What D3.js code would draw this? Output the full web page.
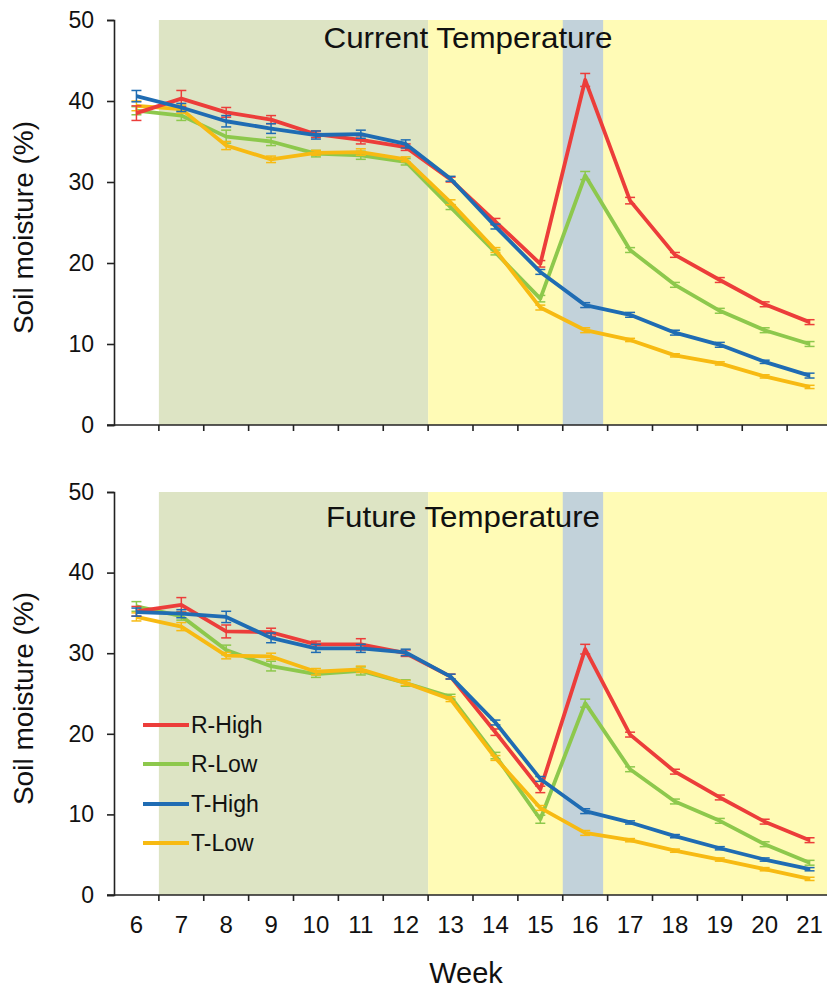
<!DOCTYPE html>
<html>
<head>
<meta charset="utf-8">
<script src="https://cdn.jsdelivr.net/npm/d3@7"></script>
<style>
  html, body { margin: 0; padding: 0; background: #fff; }
  svg { display: block; }
  text { font-family: "Liberation Sans", Arial, sans-serif; fill: #111; }
</style>
</head>
<body>
<svg id="chart" width="827" height="990"></svg>
<script>
// ---------- DATA ----------
const weeks = [6, 7, 8, 9, 10, 11, 12, 13, 14, 15, 16, 17, 18, 19, 20, 21];
const seriesNames = ["R-High", "R-Low", "T-High", "T-Low"];
const yTicks = [0, 10, 20, 30, 40, 50];
const panelTitles = ["Current Temperature", "Future Temperature"];

// Current temperature
const curRHigh = [38.5, 40.3, 38.6, 37.7, 35.9, 35.2, 34.3, 30.3, 25.1, 19.9, 42.6, 27.7, 21.0, 17.9, 14.9, 12.7];
const curRLow  = [38.8, 38.2, 35.6, 35.0, 33.5, 33.3, 32.5, 26.9, 21.3, 15.6, 30.8, 21.6, 17.3, 14.1, 11.7, 10.0];
const curTHigh = [40.6, 39.2, 37.5, 36.6, 35.8, 35.9, 34.7, 30.4, 24.5, 18.9, 14.8, 13.6, 11.4, 9.9, 7.8, 6.1];
const curTLow  = [39.4, 39.0, 34.5, 32.8, 33.6, 33.7, 32.8, 27.5, 21.6, 14.5, 11.7, 10.5, 8.6, 7.6, 6.0, 4.7];
const curErr = [
  [0.9, 1.0, 0.6, 0.5, 0.4, 0.5, 0.4, 0.3, 0.4, 0.4, 0.8, 0.4, 0.3, 0.3, 0.3, 0.3],
  [0.5, 0.6, 0.8, 0.5, 0.4, 0.5, 0.4, 0.3, 0.3, 0.4, 0.5, 0.3, 0.3, 0.3, 0.3, 0.3],
  [0.7, 0.5, 0.7, 0.6, 0.5, 0.5, 0.5, 0.3, 0.3, 0.3, 0.3, 0.3, 0.3, 0.3, 0.2, 0.3],
  [0.6, 0.5, 0.5, 0.4, 0.3, 0.4, 0.3, 0.3, 0.3, 0.3, 0.3, 0.2, 0.2, 0.2, 0.2, 0.2]
];

// Future temperature
const futRHigh = [35.2, 36.0, 32.7, 32.6, 31.1, 31.1, 30.0, 27.1, 20.2, 13.1, 30.5, 19.9, 15.3, 12.1, 9.1, 6.8];
const futRLow  = [35.8, 34.6, 30.4, 28.4, 27.4, 27.8, 26.3, 24.6, 17.3, 9.4, 23.8, 15.6, 11.6, 9.2, 6.3, 4.0];
const futTHigh = [35.1, 34.9, 34.5, 31.9, 30.6, 30.6, 30.1, 27.1, 21.4, 14.4, 10.4, 9.0, 7.3, 5.8, 4.4, 3.2];
const futTLow  = [34.5, 33.3, 29.7, 29.6, 27.7, 28.0, 26.3, 24.3, 17.0, 10.8, 7.7, 6.8, 5.5, 4.4, 3.2, 2.0];
const futErr = [
  [0.6, 0.9, 0.8, 0.5, 0.4, 0.7, 0.4, 0.3, 0.4, 0.4, 0.6, 0.3, 0.3, 0.3, 0.3, 0.3],
  [0.6, 0.5, 0.6, 0.6, 0.4, 0.5, 0.4, 0.3, 0.4, 0.5, 0.5, 0.3, 0.3, 0.3, 0.3, 0.3],
  [0.5, 0.5, 0.7, 0.6, 0.5, 0.5, 0.4, 0.3, 0.3, 0.3, 0.3, 0.2, 0.2, 0.2, 0.2, 0.2],
  [0.5, 0.5, 0.4, 0.4, 0.4, 0.4, 0.3, 0.3, 0.3, 0.3, 0.3, 0.2, 0.2, 0.2, 0.2, 0.2]
];

// Shaded periods (in week units)
const greenPeriod = [6.5, 12.5];
const yellowPeriod = [12.5, 21.5];
const bluePeriod = [15.5, 16.4];

// ---------- STYLE ----------
const colors = { "R-High": "#EC3D3A", "R-Low": "#8DC84C", "T-High": "#1F6CB3", "T-Low": "#F7BA12" };
const drawOrder = ["R-Low", "T-Low", "R-High", "T-High"];

const svg = d3.select("#chart");
const x = d3.scaleLinear().domain([5.5, 21.5]).range([114, 832]);

const panels = [
  { title: panelTitles[0], series: [curRHigh, curRLow, curTHigh, curTLow], err: curErr,
    y: d3.scaleLinear().domain([0, 50]).range([425, 20]), titleY: 48, titleX: 468, titleW: 289, legend: false, labels: false },
  { title: panelTitles[1], series: [futRHigh, futRLow, futTHigh, futTLow], err: futErr,
    y: d3.scaleLinear().domain([0, 50]).range([895, 492]), titleY: 527, titleX: 463, titleW: 274, legend: true, labels: true }
];

panels.forEach(p => {
  const g = svg.append("g");
  const y = p.y;
  const top = y(50), bot = y(0);

  // backgrounds
  g.append("rect").attr("x", x(greenPeriod[0])).attr("y", top)
    .attr("width", x(greenPeriod[1]) - x(greenPeriod[0])).attr("height", bot - top).attr("fill", "#DDE4C4");
  g.append("rect").attr("x", x(yellowPeriod[0])).attr("y", top)
    .attr("width", x(yellowPeriod[1]) - x(yellowPeriod[0])).attr("height", bot - top).attr("fill", "#FFFBB6");
  g.append("rect").attr("x", x(bluePeriod[0])).attr("y", top)
    .attr("width", x(bluePeriod[1]) - x(bluePeriod[0])).attr("height", bot - top).attr("fill", "#C2D2DA");

  // title
  g.append("text").attr("x", p.titleX).attr("y", p.titleY).attr("text-anchor", "middle")
    .attr("font-size", 29).attr("textLength", p.titleW).attr("lengthAdjust", "spacingAndGlyphs").text(p.title);

  // series
  const line = d3.line().x((d, i) => x(weeks[i])).y(d => y(d));
  drawOrder.forEach(name => {
    const si = seriesNames.indexOf(name);
    const vals = p.series[si];
    const errs = p.err[si];
    const col = colors[name];
    const sg = g.append("g");
    sg.selectAll("line.eb").data(vals).enter().append("line")
      .attr("x1", (d, i) => x(weeks[i])).attr("x2", (d, i) => x(weeks[i]))
      .attr("y1", (d, i) => y(d - errs[i])).attr("y2", (d, i) => y(d + errs[i]))
      .attr("stroke", col).attr("stroke-width", 1.5);
    sg.selectAll("line.cap1").data(vals).enter().append("line")
      .attr("x1", (d, i) => x(weeks[i]) - 5).attr("x2", (d, i) => x(weeks[i]) + 5)
      .attr("y1", (d, i) => y(d + errs[i])).attr("y2", (d, i) => y(d + errs[i]))
      .attr("stroke", col).attr("stroke-width", 1.5);
    sg.selectAll("line.cap2").data(vals).enter().append("line")
      .attr("x1", (d, i) => x(weeks[i]) - 5).attr("x2", (d, i) => x(weeks[i]) + 5)
      .attr("y1", (d, i) => y(d - errs[i])).attr("y2", (d, i) => y(d - errs[i]))
      .attr("stroke", col).attr("stroke-width", 1.5);
    sg.append("path").datum(vals).attr("d", line).attr("fill", "none")
      .attr("stroke", col).attr("stroke-width", 3.8).attr("stroke-linejoin", "round");
  });

  // y axis
  const yAxis = d3.axisLeft(y).tickValues(yTicks).tickSize(7).tickPadding(13).tickFormat(d3.format("d"));
  const ya = g.append("g").attr("transform", "translate(114,0)").call(yAxis);
  ya.select(".domain").attr("stroke", "#222").attr("stroke-width", 1.6);
  ya.selectAll(".tick line").attr("stroke", "#222").attr("stroke-width", 1.6);
  ya.selectAll(".tick text").attr("font-size", 23).attr("font-family", "Liberation Sans, Arial, sans-serif").attr("fill", "#222");

  // x axis
  const boundaries = d3.range(6.5, 21.5, 1);
  const xa = g.append("g").attr("transform", `translate(0,${bot})`);
  xa.append("line").attr("x1", 107).attr("x2", 832).attr("y1", 0).attr("y2", 0)
    .attr("stroke", "#222").attr("stroke-width", 1.6);
  xa.selectAll("line.tk").data(boundaries).enter().append("line")
    .attr("x1", d => x(d)).attr("x2", d => x(d)).attr("y1", 0).attr("y2", 6)
    .attr("stroke", "#222").attr("stroke-width", 1.6);
  if (p.labels) {
    xa.selectAll("text.wl").data(weeks).enter().append("text")
      .attr("x", d => x(d)).attr("y", 38).attr("text-anchor", "middle")
      .attr("font-size", 24).attr("fill", "#222").text(d => d);
  }

  // y label
  g.append("text").attr("transform", `translate(33,${(top + bot) / 2 + 5}) rotate(-90)`)
    .attr("text-anchor", "middle").attr("font-size", 28).text("Soil moisture (%)");

  // legend
  if (p.legend) {
    const ly = [725, 764, 804, 843];
    seriesNames.forEach((name, i) => {
      g.append("line").attr("x1", 143).attr("x2", 189).attr("y1", ly[i]).attr("y2", ly[i])
        .attr("stroke", colors[name]).attr("stroke-width", 4);
      g.append("text").attr("x", 191).attr("y", ly[i]).attr("dy", "0.35em")
        .attr("font-size", 23).text(name);
    });
  }
});

svg.append("text").attr("x", 466).attr("y", 983).attr("text-anchor", "middle")
  .attr("font-size", 29).text("Week");
</script>
</body>
</html>
